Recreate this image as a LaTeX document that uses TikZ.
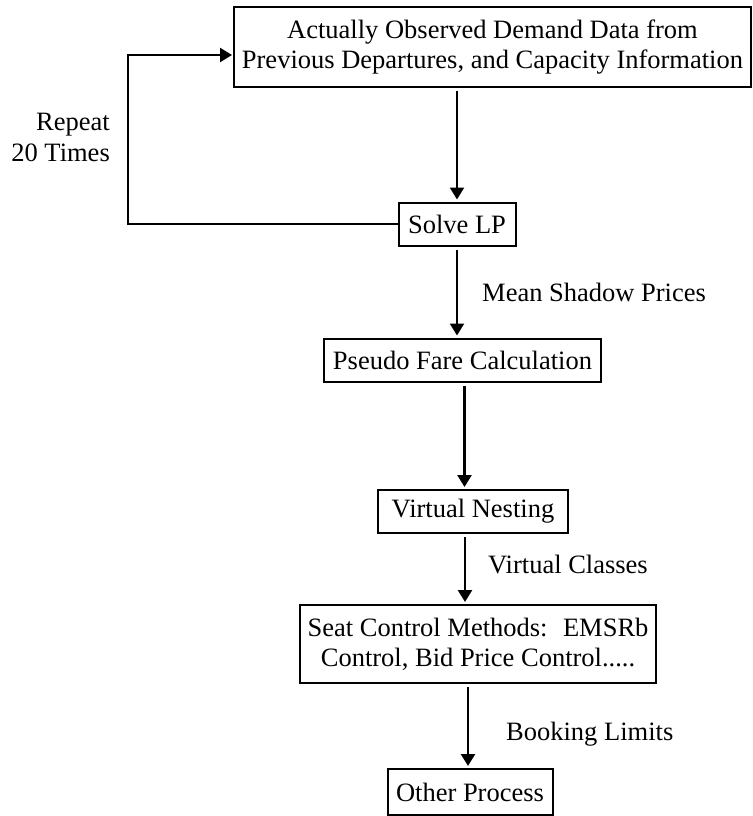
\documentclass[tikz,border=0pt]{standalone}
\usepackage{fontspec}
\setmainfont{Liberation Serif}
\usetikzlibrary{arrows.meta,calc}
\begin{document}
\begin{tikzpicture}[x=1pt,y=-1pt,
  txt/.style={font=\fontsize{26.5}{30}\selectfont},
  box/.style={txt,draw,line width=2pt,inner sep=0pt,align=center},
  lbl/.style={txt,inner sep=0pt},
  wire/.style={line width=2.4pt,line join=miter},
  flow/.style={wire,-{Triangle[width=14pt,length=12pt]},shorten >=2pt,shorten <=3pt}]
\useasboundingbox (0,0) rectangle (752,816);

% process boxes
\node[box,minimum width=517pt,minimum height=80pt] (data) at (492.5,47)
  {Actually Observed Demand Data from\\Previous Departures, and Capacity Information};
\node[box,minimum width=117pt,minimum height=43pt] (solve) at (457,224) {Solve LP};
\node[box,minimum width=277pt,minimum height=43pt] (pseudo) at (462.5,360) {Pseudo Fare Calculation};
\node[box,minimum width=190pt,minimum height=43pt] (vnest) at (473,511.5) {Virtual Nesting};
\node[box,minimum width=356pt,minimum height=78pt] (seat) at (478,644)
  {Seat Control Methods:~ EMSRb\\Control, Bid Price Control.....};
\node[box,minimum width=165pt,minimum height=46pt] (other) at (470,792) {Other Process};

% flow labels
\node[lbl,anchor=base west] (msp) at (482,301) {Mean Shadow Prices};
\node[lbl,anchor=base west] (vcl) at (488,573) {Virtual Classes};
\node[lbl,anchor=base west] (blim) at (506,740) {Booking Limits};
\node[lbl,anchor=base east] (rep1) at (110,130) {Repeat};
\node[lbl,anchor=base east] (rep2) at (110,161) {20 Times};

% main flow
\draw[flow] (data.south -| solve) -- (solve.north);
\draw[flow] (solve.south) -- (solve.south |- pseudo.north);
\draw[flow] ([xshift=2pt]pseudo.south) -- ([xshift=2pt]pseudo.south |- vnest.north);
\draw[flow] ([xshift=-8pt]vnest.south) -- ([xshift=-8pt]vnest.south |- seat.north);
\draw[flow] ([xshift=-2pt]other.north |- seat.south) -- ([xshift=-2pt]other.north);

% feedback loop
\coordinate (ltop) at (128,55);
\coordinate (lbot) at (128,224);
\draw[wire,-{Triangle[width=14pt,length=12pt]},shorten >=1pt]
  (solve.west) -- (lbot) -- (ltop) -- (ltop -| data.west);
\end{tikzpicture}
\end{document}
